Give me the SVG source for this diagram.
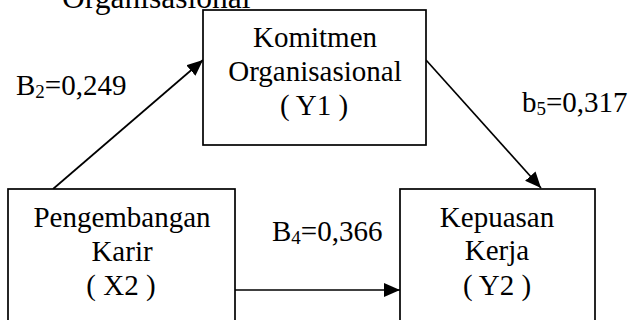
<svg xmlns="http://www.w3.org/2000/svg" width="628" height="320" viewBox="0 0 628 320">
<defs>
<style>
.box{fill:#fff;stroke:#000;stroke-width:1.7}
.t{font-family:"Liberation Serif","Times New Roman",serif;font-size:29px;fill:#000}
.c{text-anchor:middle}
.sub{font-size:19px}
.ln{stroke:#000;stroke-width:1.7;fill:none;marker-end:url(#ah)}
</style>
<marker id="ah" markerUnits="userSpaceOnUse" markerWidth="16" markerHeight="16" viewBox="0 0 16 16" refX="16" refY="8" orient="auto">
<path d="M0,1 L16,8 L0,15 z" fill="#000"/>
</marker>
</defs>
<rect width="628" height="320" fill="#fff"/>
<text class="t" x="62" y="7.5" style="font-size:31.5px">Organisasional</text>
<g id="connectors">
<line class="ln" x1="53" y1="189" x2="203" y2="60"/>
<line class="ln" x1="426" y1="60" x2="541" y2="188"/>
<line class="ln" x1="235" y1="290" x2="400" y2="290"/>
</g>
<g id="Y1">
<rect class="box" x="203" y="10" width="223" height="135"/>
<text class="t c" x="315" y="47">Komitmen</text>
<text class="t c" x="315" y="81">Organisasional</text>
<text class="t c" x="314" y="115">( Y1 )</text>
</g>
<g id="X2">
<rect class="box" x="8" y="189" width="227" height="145"/>
<text class="t c" x="122" y="227">Pengembangan</text>
<text class="t c" x="122" y="261">Karir</text>
<text class="t c" x="121" y="295">( X2 )</text>
</g>
<g id="Y2">
<rect class="box" x="400" y="189" width="195" height="145"/>
<text class="t c" x="497" y="227">Kepuasan</text>
<text class="t c" x="497" y="260">Kerja</text>
<text class="t c" x="497" y="295">( Y2 )</text>
</g>
<g id="labels">
<text class="t" x="16" y="95">B<tspan class="sub" dy="3">2</tspan><tspan dy="-3">=0,249</tspan></text>
<text class="t" x="272" y="241">B<tspan class="sub" dy="3">4</tspan><tspan dy="-3">=0,366</tspan></text>
<text class="t" x="522" y="112">b<tspan class="sub" dy="3">5</tspan><tspan dy="-3">=0,317</tspan></text>
</g>
</svg>
